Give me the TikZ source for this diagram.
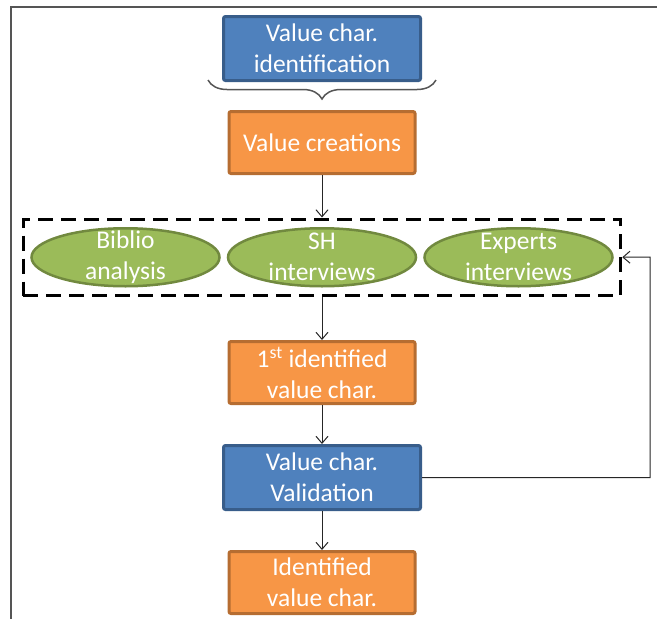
\documentclass[tikz,border=0pt]{standalone}
\usepackage{fontspec}
\setmainfont{Carlito}
\usepackage{tikz}
\usetikzlibrary{
  shapes.geometric,
  arrows.meta,
  positioning, fit, calc,
  decorations.pathreplacing
}
\definecolor{fillblue}{RGB}{79,129,189}
\definecolor{edgeblue}{RGB}{56,93,138}
\definecolor{fillorange}{RGB}{247,150,70}
\definecolor{edgeorange}{RGB}{182,109,49}
\definecolor{fillgreen}{RGB}{155,187,89}
\definecolor{edgegreen}{RGB}{113,137,63}
\definecolor{framegray}{RGB}{85,85,85}
\tikzset{
  basebox/.style={rectangle,rounded corners=2pt,line width=3pt,align=center,text=white,
    font=\fontsize{25.5}{31}\selectfont},
  bluebox/.style={basebox,fill=fillblue,draw=edgeblue,minimum width=197pt,minimum height=64pt},
  orangebox/.style={basebox,fill=fillorange,draw=edgeorange,minimum width=186pt,minimum height=62pt},
  greenell/.style={ellipse,fill=fillgreen,draw=edgegreen,line width=2.5pt,align=center,text=white,
    font=\fontsize{25.5}{31}\selectfont,minimum width=188pt,minimum height=58pt,
    inner xsep=0pt,inner ysep=-7pt},
  dashbox/.style={draw=black,line width=3pt,dash pattern=on 15pt off 8pt,inner xsep=7pt,inner ysep=8pt},
  arr/.style={-{Straight Barb[length=7pt,width=12pt]},line width=1pt,color=black!85},
  brc/.style={decorate,decoration={brace,amplitude=19pt},line width=1.5pt,color=framegray},
  framel/.style={line width=2pt,color=framegray}
}

\begin{document}
\begin{tikzpicture}[x=1pt,y=1pt]
  \useasboundingbox (0,0) rectangle (657,-619);
  \draw[framel] (657,-7) -- (11,-7) -- (11,-619);
  \node[bluebox] (vid) at (322,-48.5) {Value char.\\identification};
  \draw[brc] ($(vid.south east)+(14,2)$) -- ($(vid.south west)+(-14,2)$);
  \node[orangebox,below=28pt of vid] (vcr) {Value creations};
  \node[greenell,below=52pt of vcr] (sh) {SH\\interviews};
  \node[greenell,left=6pt of sh] (bib) {Biblio\\analysis};
  \node[greenell,right=6pt of sh] (exp) {Experts\\interviews};
  \node[dashbox,fit=(bib)(sh)(exp)] (dbox) {};
  \node[orangebox,below=43pt of dbox] (fid) {1\textsuperscript{st} identified\\value char.};
  \node[bluebox,below=39pt of fid] (val) {Value char.\\Validation};
  \node[orangebox,below=39pt of val] (idv) {Identified\\value char.};
  \foreach \a/\b in {vcr/dbox,dbox/fid,fid/val,val/idv} \draw[arr] (\a)--(\b);
  \coordinate (fb) at (650,-257);
  \draw[arr] (val.east) -| (fb) -- (dbox.east);
\end{tikzpicture}
\end{document}
